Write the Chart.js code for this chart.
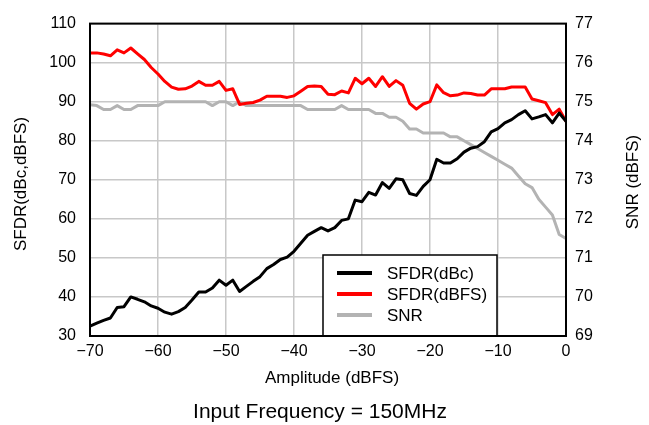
<!DOCTYPE html>
<html>
<head>
<meta charset="utf-8">
<script src="https://cdn.jsdelivr.net/npm/chart.js@4/dist/chart.umd.min.js"></script>
<style>
html,body{margin:0;padding:0;background:#fff;}
#wrap{width:649px;height:425px;}
</style>
</head>
<body>
<div id="wrap"><canvas id="c" width="649" height="425"></canvas></div>
<script>
const amplitude = [-70,-69,-68,-67,-66,-65,-64,-63,-62,-61,-60,-59,-58,-57,-56,-55,-54,-53,-52,-51,-50,-49,-48,-47,-46,-45,-44,-43,-42,-41,-40,-39,-38,-37,-36,-35,-34,-33,-32,-31,-30,-29,-28,-27,-26,-25,-24,-23,-22,-21,-20,-19,-18,-17,-16,-15,-14,-13,-12,-11,-10,-9,-8,-7,-6,-5,-4,-3,-2,-1,0];
const sfdrDbc = [32.5,33.3,34,34.6,37.3,37.5,40,39.4,38.75,37.7,37.1,36.1,35.6,36.25,37.3,39.2,41.25,41.25,42.3,44.3,43,44.3,41.4,42.7,44,45.2,47.25,48.3,49.6,50.2,51.7,53.75,55.8,56.8,57.75,56.9,57.75,59.6,60,64.8,64.4,66.8,66.1,69.3,67.8,70.25,70,66.5,66,68.3,70,75.25,74.3,74.3,75.4,77.1,78.1,78.5,79.75,82.25,83.1,84.6,85.4,86.7,87.7,85.6,86.1,86.7,84.6,87.1,85];
const sfdrDbfs = [102.5,102.5,102.2,101.75,103.3,102.5,103.75,102.25,100.8,98.75,97.1,95.2,93.75,93.2,93.3,94,95.2,94.2,94.2,95.2,92.9,93.3,89.3,89.6,89.8,90.4,91.4,91.4,91.4,91.1,91.5,92.7,93.9,94,93.9,91.9,91.8,92.75,92.25,96,94.6,96,93.9,96.4,93.9,95.4,94.2,89.6,88.1,89.4,90,94.3,92.3,91.5,91.7,92.25,92.1,91.7,91.7,93.3,93.3,93.3,93.75,93.75,93.75,90.7,90.25,89.75,86.7,88.1,85];
const snr = [74.92,74.9,74.8,74.8,74.9,74.8,74.8,74.9,74.9,74.9,74.9,75,75,75,75,75,75,75,74.9,75,75,74.9,75,74.9,74.9,74.9,74.9,74.9,74.9,74.9,74.9,74.9,74.8,74.8,74.8,74.8,74.8,74.9,74.8,74.8,74.8,74.8,74.7,74.7,74.6,74.6,74.5,74.3,74.3,74.2,74.2,74.2,74.2,74.1,74.1,74.0,73.9,73.8,73.7,73.6,73.5,73.4,73.3,73.1,72.9,72.8,72.5,72.3,72.1,71.6,71.5];
const seriesLabels = ['SFDR(dBc)','SFDR(dBFS)','SNR'];
const xTitle = 'Amplitude (dBFS)';
const yLeftTitle = 'SFDR(dBc,dBFS)';
const yRightTitle = 'SNR (dBFS)';
const caption = 'Input Frequency = 150MHz';

const FONT = '"Liberation Sans", Arial, Helvetica, sans-serif';
const toPts = ys => amplitude.map((x,i)=>({x:x,y:ys[i]}));
const fmtMinus = v => String(v).replace('-', '\u2212');

const decor = {
  id:'decor',
  afterDraw(chart){
    const ctx = chart.ctx, a = chart.chartArea;
    ctx.save();
    ctx.strokeStyle = '#000'; ctx.lineWidth = 2;
    ctx.strokeRect(a.left, a.top, a.right - a.left, a.bottom - a.top);
    ctx.fillStyle = '#000';
    ctx.textAlign = 'center'; ctx.textBaseline = 'middle';
    ctx.font = '17px ' + FONT;
    ctx.fillText(xTitle, (a.left + a.right)/2 + 4, 378);
    ctx.save(); ctx.translate(21, 184); ctx.rotate(-Math.PI/2); ctx.fillText(yLeftTitle, 0, 0); ctx.restore();
    ctx.save(); ctx.translate(633, 182); ctx.rotate(-Math.PI/2); ctx.fillText(yRightTitle, 0, 0); ctx.restore();
    ctx.font = '21px ' + FONT;
    ctx.fillText(caption, 320, 412);
    const lx = 323, ly = 255, lw = 174, lh = a.bottom - ly;
    ctx.fillStyle = '#fff'; ctx.fillRect(lx, ly, lw, lh);
    ctx.strokeStyle = '#000'; ctx.lineWidth = 1.5; ctx.strokeRect(lx, ly, lw, lh);
    ctx.font = '17px ' + FONT; ctx.textAlign = 'left';
    chart.data.datasets.forEach((ds, i) => {
      const y = 273 + i*21;
      ctx.strokeStyle = ds.borderColor; ctx.lineWidth = 4; ctx.lineCap = 'butt';
      ctx.beginPath(); ctx.moveTo(337, y); ctx.lineTo(372, y); ctx.stroke();
      ctx.fillStyle = '#000'; ctx.fillText(ds.label, 387, y + 1);
    });
    ctx.strokeStyle = '#000'; ctx.lineWidth = 2;
    ctx.beginPath(); ctx.moveTo(a.left, a.bottom); ctx.lineTo(a.right, a.bottom); ctx.stroke();
    ctx.restore();
  }
};

new Chart(document.getElementById('c'), {
  type: 'line',
  data: {
    datasets: [
      {label: seriesLabels[0], data: toPts(sfdrDbc), borderColor:'#000000', yAxisID:'y'},
      {label: seriesLabels[1], data: toPts(sfdrDbfs), borderColor:'#ff0000', yAxisID:'y'},
      {label: seriesLabels[2], data: toPts(snr), borderColor:'#b3b3b3', yAxisID:'y1'}
    ]
  },
  options: {
    responsive: false, animation: false, devicePixelRatio: 1,
    layout: {padding: {top: 17, left: 0, right: 0, bottom: 0}},
    elements: {line: {borderWidth: 3, tension: 0, borderJoinStyle:'round', borderCapStyle:'round'}, point: {radius: 0}},
    plugins: {legend: {display: false}, tooltip: {enabled: false}, title:{display:false}},
    scales: {
      x: {
        type: 'linear', min: -70, max: 0,
        afterFit: s => { s.height = 89; },
        ticks: {stepSize: 10, color:'#000', font:{family: FONT, size: 16}, padding: 6, callback: v => fmtMinus(v), maxRotation:0},
        grid: {color:'#c8c8c8', lineWidth: 1.5, drawTicks: false},
        border: {display: false}
      },
      y: {
        position: 'left', min: 30, max: 110,
        afterFit: s => { s.width = 90; },
        ticks: {stepSize: 10, color:'#000', font:{family: FONT, size: 16}, padding: 14},
        grid: {color:'#c8c8c8', lineWidth: 1.5, drawTicks: false},
        border: {display: false}
      },
      y1: {
        position: 'right', min: 69, max: 77,
        afterFit: s => { s.width = 83; },
        ticks: {stepSize: 1, color:'#000', font:{family: FONT, size: 16}, padding: 9},
        grid: {display: false, drawTicks: false},
        border: {display: false}
      }
    }
  },
  plugins: [decor]
});
</script>
</body>
</html>
